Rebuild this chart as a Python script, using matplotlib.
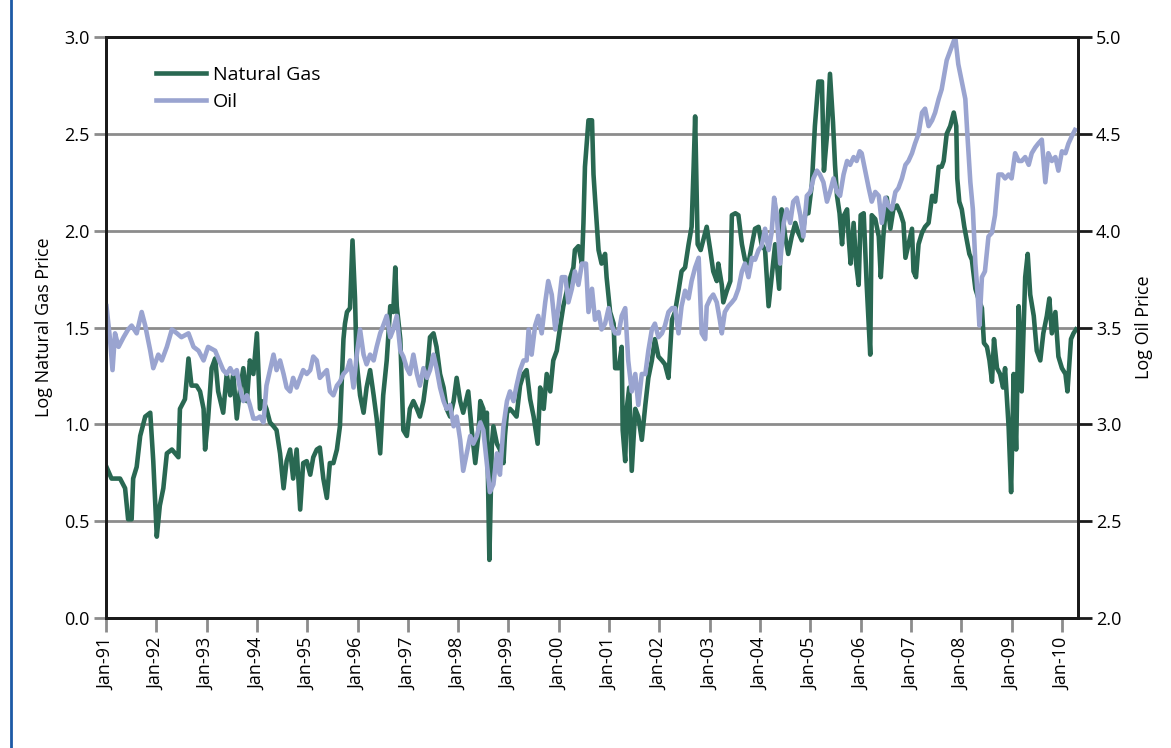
import matplotlib
matplotlib.use("Agg")
import matplotlib.pyplot as plt
from matplotlib.lines import Line2D

plt.rcParams['font.family'] = ['Open Sans', 'DejaVu Sans']

# ---- data (decimal year, log price) ----
gas_year = [1991.01, 1991.11, 1991.28, 1991.38, 1991.44, 1991.51, 1991.54, 1991.61, 1991.68, 1991.78,
            1991.88, 1991.94, 1992.01, 1992.07, 1992.14, 1992.21, 1992.31, 1992.44, 1992.47, 1992.57,
            1992.64, 1992.70, 1992.80, 1992.87, 1992.94, 1992.97, 1993.03, 1993.10, 1993.17, 1993.23,
            1993.33, 1993.40, 1993.47, 1993.53, 1993.60, 1993.66, 1993.73, 1993.80, 1993.86, 1993.93,
            1994.00, 1994.06, 1994.13, 1994.19, 1994.26, 1994.33, 1994.39, 1994.46, 1994.53, 1994.59,
            1994.66, 1994.72, 1994.79, 1994.86, 1994.92, 1994.99, 1995.06, 1995.12, 1995.19, 1995.25,
            1995.32, 1995.39, 1995.45, 1995.52, 1995.59, 1995.65, 1995.72, 1995.75, 1995.79, 1995.85,
            1995.90, 1995.95, 1995.98, 1996.05, 1996.12, 1996.18, 1996.25, 1996.32, 1996.38, 1996.45,
            1996.51, 1996.58, 1996.65, 1996.71, 1996.75, 1996.78, 1996.85, 1996.91, 1996.98, 1997.04,
            1997.11, 1997.18, 1997.24, 1997.31, 1997.38, 1997.44, 1997.51, 1997.57, 1997.64, 1997.71,
            1997.77, 1997.84, 1997.91, 1997.97, 1998.04, 1998.10, 1998.20, 1998.27, 1998.34, 1998.40,
            1998.44, 1998.50, 1998.54, 1998.57, 1998.62, 1998.67, 1998.70, 1998.77, 1998.83, 1998.90,
            1998.93, 1998.97, 1999.03, 1999.10, 1999.16, 1999.23, 1999.30, 1999.36, 1999.43, 1999.50,
            1999.58, 1999.63, 1999.70, 1999.76, 1999.83, 1999.89, 1999.96, 2000.03, 2000.09, 2000.16,
            2000.23, 2000.29, 2000.32, 2000.39, 2000.46, 2000.49, 2000.52, 2000.59, 2000.66, 2000.69,
            2000.72, 2000.79, 2000.85, 2000.92, 2000.95, 2001.02, 2001.09, 2001.12, 2001.19, 2001.25,
            2001.27, 2001.32, 2001.35, 2001.40, 2001.45, 2001.52, 2001.58, 2001.65, 2001.72, 2001.78,
            2001.85, 2001.91, 2001.98, 2002.05, 2002.11, 2002.18, 2002.25, 2002.31, 2002.38, 2002.44,
            2002.51, 2002.58, 2002.64, 2002.68, 2002.71, 2002.76, 2002.82, 2002.89, 2002.94, 2003.01,
            2003.07, 2003.14, 2003.17, 2003.24, 2003.27, 2003.34, 2003.41, 2003.44, 2003.51, 2003.57,
            2003.64, 2003.70, 2003.77, 2003.84, 2003.90, 2003.97, 2004.03, 2004.10, 2004.17, 2004.23,
            2004.30, 2004.38, 2004.43, 2004.50, 2004.56, 2004.63, 2004.70, 2004.76, 2004.83, 2004.90,
            2004.96, 2005.03, 2005.09, 2005.16, 2005.23, 2005.27, 2005.33, 2005.39, 2005.45, 2005.49,
            2005.53, 2005.58, 2005.63, 2005.67, 2005.73, 2005.76, 2005.80, 2005.86, 2005.91, 2005.96,
            2006.00, 2006.06, 2006.12, 2006.19, 2006.22, 2006.29, 2006.36, 2006.40, 2006.45, 2006.52,
            2006.59, 2006.65, 2006.72, 2006.79, 2006.85, 2006.89, 2006.95, 2007.02, 2007.05, 2007.10,
            2007.15, 2007.22, 2007.28, 2007.35, 2007.42, 2007.48, 2007.55, 2007.61, 2007.65, 2007.71,
            2007.78, 2007.85, 2007.90, 2007.92, 2007.96, 2008.01, 2008.06, 2008.11, 2008.16, 2008.21,
            2008.28, 2008.34, 2008.41, 2008.45, 2008.51, 2008.56, 2008.61, 2008.65, 2008.71, 2008.77,
            2008.83, 2008.87, 2008.94, 2008.99, 2009.04, 2009.09, 2009.14, 2009.20, 2009.27, 2009.32,
            2009.37, 2009.44, 2009.50, 2009.57, 2009.63, 2009.70, 2009.75, 2009.80, 2009.87, 2009.93,
            2010.00, 2010.07, 2010.11, 2010.18, 2010.23, 2010.28]
gas_log = [0.78, 0.72, 0.72, 0.67, 0.51, 0.51, 0.72, 0.78, 0.94, 1.04,
           1.06, 0.81, 0.42, 0.58, 0.67, 0.85, 0.87, 0.83, 1.08, 1.13,
           1.34, 1.20, 1.20, 1.17, 1.08, 0.87, 1.03, 1.29, 1.34, 1.17,
           1.06, 1.26, 1.15, 1.26, 1.03, 1.17, 1.29, 1.12, 1.33, 1.26,
           1.47, 1.08, 1.12, 1.08, 1.01, 0.99, 0.97, 0.85, 0.67, 0.81,
           0.87, 0.72, 0.87, 0.56, 0.80, 0.81, 0.74, 0.83, 0.87, 0.88,
           0.72, 0.62, 0.80, 0.80, 0.87, 0.99, 1.44, 1.52, 1.58, 1.60,
           1.95, 1.65, 1.33, 1.15, 1.06, 1.19, 1.28, 1.15, 1.03, 0.85,
           1.15, 1.33, 1.61, 1.58, 1.81, 1.61, 1.44, 0.97, 0.94, 1.08,
           1.12, 1.08, 1.04, 1.12, 1.26, 1.45, 1.47, 1.40, 1.26, 1.19,
           1.08, 1.04, 1.12, 1.24, 1.12, 1.06, 1.17, 0.97, 0.80, 0.94,
           1.12, 1.08, 0.90, 1.06, 0.30, 0.90, 0.99, 0.90, 0.87, 0.80,
           0.94, 1.06, 1.08, 1.06, 1.04, 1.20, 1.26, 1.28, 1.13, 1.04,
           0.90, 1.19, 1.08, 1.26, 1.17, 1.33, 1.38, 1.51, 1.61, 1.69,
           1.76, 1.81, 1.90, 1.92, 1.83, 2.04, 2.33, 2.57, 2.57, 2.29,
           2.17, 1.90, 1.83, 1.88, 1.76, 1.58, 1.52, 1.29, 1.29, 1.40,
           0.97, 0.81, 1.08, 1.19, 0.76, 1.08, 1.04, 0.92, 1.10, 1.24,
           1.33, 1.44, 1.35, 1.33, 1.31, 1.24, 1.54, 1.58, 1.69, 1.79,
           1.81, 1.93, 2.02, 2.33, 2.59, 1.93, 1.90, 1.97, 2.02, 1.90,
           1.79, 1.74, 1.83, 1.72, 1.63, 1.69, 1.74, 2.08, 2.09, 2.08,
           1.93, 1.85, 1.83, 1.93, 2.01, 2.02, 1.93, 1.90, 1.61, 1.76,
           1.93, 1.70, 2.11, 1.97, 1.88, 1.97, 2.04, 1.99, 1.95, 2.09,
           2.09, 2.24, 2.54, 2.77, 2.77, 2.31, 2.49, 2.81, 2.56, 2.34,
           2.18, 2.09, 1.93, 2.08, 2.11, 1.97, 1.83, 2.04, 1.83, 1.72,
           2.08, 2.09, 1.72, 1.36, 2.08, 2.06, 1.97, 1.76, 1.97, 2.17,
           2.01, 2.11, 2.13, 2.09, 2.04, 1.86, 1.93, 2.01, 1.79, 1.76,
           1.93, 1.99, 2.02, 2.04, 2.18, 2.15, 2.33, 2.33, 2.36, 2.50,
           2.54, 2.61, 2.54, 2.27, 2.15, 2.11, 2.02, 1.95, 1.88, 1.85,
           1.70, 1.65, 1.60, 1.42, 1.40, 1.33, 1.22, 1.44, 1.29, 1.26,
           1.19, 1.29, 0.99, 0.65, 1.26, 0.87, 1.61, 1.17, 1.76, 1.88,
           1.67, 1.56, 1.38, 1.33, 1.47, 1.56, 1.65, 1.47, 1.58, 1.35,
           1.29, 1.26, 1.17, 1.44, 1.47, 1.49]

oil_year = [1991.01, 1991.08, 1991.13, 1991.18, 1991.25, 1991.35, 1991.44, 1991.51, 1991.61, 1991.71,
            1991.78, 1991.88, 1991.94, 1992.04, 1992.11, 1992.21, 1992.31, 1992.41, 1992.50, 1992.64,
            1992.74, 1992.84, 1992.94, 1993.03, 1993.17, 1993.33, 1993.40, 1993.47, 1993.53, 1993.60,
            1993.66, 1993.73, 1993.80, 1993.86, 1993.93, 1994.00, 1994.06, 1994.13, 1994.19, 1994.26,
            1994.33, 1994.39, 1994.46, 1994.53, 1994.59, 1994.66, 1994.72, 1994.79, 1994.86, 1994.92,
            1994.99, 1995.06, 1995.12, 1995.19, 1995.25, 1995.32, 1995.39, 1995.45, 1995.52, 1995.59,
            1995.65, 1995.72, 1995.79, 1995.85, 1995.92, 1995.98, 1996.05, 1996.12, 1996.18, 1996.25,
            1996.32, 1996.38, 1996.45, 1996.51, 1996.58, 1996.65, 1996.71, 1996.78, 1996.85, 1996.91,
            1996.98, 1997.04, 1997.11, 1997.18, 1997.24, 1997.31, 1997.38, 1997.44, 1997.51, 1997.57,
            1997.64, 1997.71, 1997.77, 1997.84, 1997.91, 1997.97, 1998.04, 1998.10, 1998.24, 1998.30,
            1998.37, 1998.44, 1998.50, 1998.57, 1998.63, 1998.70, 1998.77, 1998.83, 1998.90, 1998.97,
            1999.03, 1999.10, 1999.16, 1999.23, 1999.30, 1999.36, 1999.40, 1999.46, 1999.53, 1999.59,
            1999.66, 1999.73, 1999.79, 1999.86, 1999.93, 1999.99, 2000.06, 2000.13, 2000.19, 2000.26,
            2000.32, 2000.39, 2000.46, 2000.54, 2000.59, 2000.66, 2000.72, 2000.79, 2000.85, 2000.92,
            2000.99, 2001.05, 2001.12, 2001.19, 2001.25, 2001.32, 2001.38, 2001.45, 2001.52, 2001.58,
            2001.65, 2001.72, 2001.78, 2001.85, 2001.91, 2001.98, 2002.05, 2002.11, 2002.18, 2002.25,
            2002.31, 2002.38, 2002.44, 2002.51, 2002.58, 2002.64, 2002.71, 2002.78, 2002.84, 2002.91,
            2002.94, 2003.01, 2003.07, 2003.14, 2003.20, 2003.24, 2003.30, 2003.37, 2003.44, 2003.50,
            2003.57, 2003.64, 2003.70, 2003.77, 2003.84, 2003.90, 2003.97, 2004.03, 2004.10, 2004.17,
            2004.23, 2004.28, 2004.33, 2004.40, 2004.47, 2004.53, 2004.60, 2004.66, 2004.73, 2004.80,
            2004.86, 2004.93, 2005.00, 2005.06, 2005.13, 2005.19, 2005.26, 2005.33, 2005.39, 2005.46,
            2005.53, 2005.59, 2005.66, 2005.73, 2005.79, 2005.86, 2005.92, 2005.98, 2006.02, 2006.09,
            2006.16, 2006.22, 2006.29, 2006.36, 2006.42, 2006.49, 2006.55, 2006.62, 2006.69, 2006.75,
            2006.82, 2006.89, 2006.95, 2007.02, 2007.08, 2007.15, 2007.22, 2007.28, 2007.35, 2007.42,
            2007.48, 2007.55, 2007.61, 2007.65, 2007.71, 2007.78, 2007.85, 2007.88, 2007.94, 2008.01,
            2008.08, 2008.12, 2008.18, 2008.23, 2008.28, 2008.32, 2008.36, 2008.41, 2008.47, 2008.54,
            2008.61, 2008.67, 2008.74, 2008.81, 2008.87, 2008.94, 2009.00, 2009.07, 2009.14, 2009.20,
            2009.27, 2009.34, 2009.40, 2009.47, 2009.53, 2009.60, 2009.67, 2009.73, 2009.80, 2009.87,
            2009.93, 2010.00, 2010.07, 2010.13, 2010.20, 2010.26]
oil_log = [3.61, 3.44, 3.28, 3.47, 3.40, 3.45, 3.49, 3.51, 3.47, 3.58,
           3.51, 3.38, 3.29, 3.36, 3.33, 3.40, 3.49, 3.47, 3.45, 3.47,
           3.40, 3.38, 3.33, 3.40, 3.38, 3.28, 3.26, 3.29, 3.26, 3.28,
           3.19, 3.12, 3.15, 3.10, 3.03, 3.03, 3.04, 3.01, 3.20, 3.28,
           3.36, 3.28, 3.33, 3.26, 3.19, 3.17, 3.24, 3.19, 3.24, 3.28,
           3.26, 3.28, 3.35, 3.33, 3.24, 3.26, 3.28, 3.17, 3.15, 3.20,
           3.22, 3.26, 3.28, 3.33, 3.19, 3.35, 3.49, 3.36, 3.31, 3.36,
           3.33, 3.40, 3.47, 3.51, 3.56, 3.45, 3.49, 3.56, 3.38, 3.35,
           3.29, 3.26, 3.36, 3.26, 3.20, 3.29, 3.24, 3.28, 3.36, 3.29,
           3.19, 3.12, 3.08, 3.10, 2.99, 3.04, 2.92, 2.76, 2.94, 2.90,
           2.94, 3.01, 2.97, 2.80, 2.65, 2.69, 2.85, 2.74, 2.99, 3.12,
           3.17, 3.12, 3.20, 3.28, 3.33, 3.33, 3.49, 3.36, 3.51, 3.56,
           3.47, 3.63, 3.74, 3.67, 3.49, 3.60, 3.76, 3.76, 3.63, 3.70,
           3.79, 3.72, 3.83, 3.83, 3.58, 3.70, 3.54, 3.58, 3.49, 3.52,
           3.60, 3.51, 3.47, 3.47, 3.56, 3.60, 3.33, 3.17, 3.26, 3.10,
           3.26, 3.26, 3.38, 3.49, 3.52, 3.45, 3.47, 3.51, 3.58, 3.60,
           3.60, 3.47, 3.61, 3.69, 3.65, 3.74, 3.81, 3.86, 3.47, 3.44,
           3.61, 3.65, 3.67, 3.63, 3.54, 3.47, 3.58, 3.61, 3.63, 3.65,
           3.70, 3.79, 3.83, 3.76, 3.86, 3.85, 3.90, 3.92, 4.01, 3.90,
           3.99, 4.17, 4.09, 3.83, 4.04, 4.11, 4.04, 4.15, 4.17, 4.08,
           3.97, 4.18, 4.20, 4.27, 4.31, 4.29, 4.25, 4.15, 4.20, 4.27,
           4.20, 4.18, 4.29, 4.36, 4.34, 4.38, 4.36, 4.41, 4.40, 4.31,
           4.22, 4.15, 4.20, 4.18, 4.04, 4.17, 4.13, 4.11, 4.20, 4.22,
           4.27, 4.34, 4.36, 4.40, 4.45, 4.50, 4.61, 4.63, 4.54, 4.57,
           4.61, 4.68, 4.73, 4.79, 4.88, 4.93, 4.98, 5.00, 4.86, 4.77,
           4.68, 4.50, 4.25, 4.11, 3.83, 3.69, 3.51, 3.76, 3.79, 3.97,
           3.99, 4.08, 4.29, 4.29, 4.27, 4.29, 4.27, 4.40, 4.36, 4.36,
           4.38, 4.34, 4.40, 4.43, 4.45, 4.47, 4.25, 4.40, 4.36, 4.38,
           4.31, 4.41, 4.40, 4.45, 4.49, 4.52]

tick_years = list(range(1991, 2011))
tick_labels = ["Jan-%02d" % (y % 100) for y in tick_years]

gas_color = "#296852"
oil_color = "#9aa4d0"

fig = plt.figure(figsize=(11.71, 7.48), dpi=100)
ax = fig.add_axes([0.0905, 0.1738, 0.8301, 0.7767])
ax2 = ax.twinx()

ax.plot(gas_year, gas_log, color=gas_color, lw=3.3, label="Natural Gas")
ax2.plot(oil_year, oil_log, color=oil_color, lw=3.3, label="Oil")

ax.set_xlim(1991.0, 2010.32)
ax.set_ylim(0, 3)
ax2.set_ylim(2, 5)
ax.set_yticks([0, 0.5, 1.0, 1.5, 2.0, 2.5, 3.0])
ax.set_yticklabels(["%.1f" % v for v in ax.get_yticks()])
ax2.set_yticks([2, 2.5, 3, 3.5, 4, 4.5, 5])
ax2.set_yticklabels(["%.1f" % v for v in ax2.get_yticks()])
ax.set_xticks(tick_years)
ax.set_xticklabels(tick_labels, rotation=90)

ax.yaxis.grid(True, color="#8c8c8c", lw=2)
ax.set_axisbelow(True)

for a in (ax, ax2):
    for s in a.spines.values():
        s.set_color("#1a1a1a")
        s.set_linewidth(2)

ax.tick_params(axis="x", length=10, width=2, color="#8c8c8c", labelsize=13, pad=4)
ax.tick_params(axis="y", length=9, width=2, color="#8c8c8c", labelsize=13, pad=3)
ax2.tick_params(axis="y", length=10, width=2, color="#1a1a1a", labelsize=13, pad=3)

ax.set_ylabel("Log Natural Gas Price", fontsize=13, labelpad=8)
ax2.set_ylabel("Log Oil Price", fontsize=13, labelpad=10)

h1, l1 = ax.get_legend_handles_labels()
h2, l2 = ax2.get_legend_handles_labels()
ax2.legend(h1 + h2, l1 + l2, loc="upper left", bbox_to_anchor=(0.033, 0.98),
           frameon=False, fontsize=14, handlelength=2.6, handletextpad=0.35,
           labelspacing=0.45)

fig.add_artist(Line2D([0.0095, 0.0095], [0, 1], transform=fig.transFigure,
                      color="#1d5aa6", lw=2))

fig.savefig("out.png", dpi=100)
